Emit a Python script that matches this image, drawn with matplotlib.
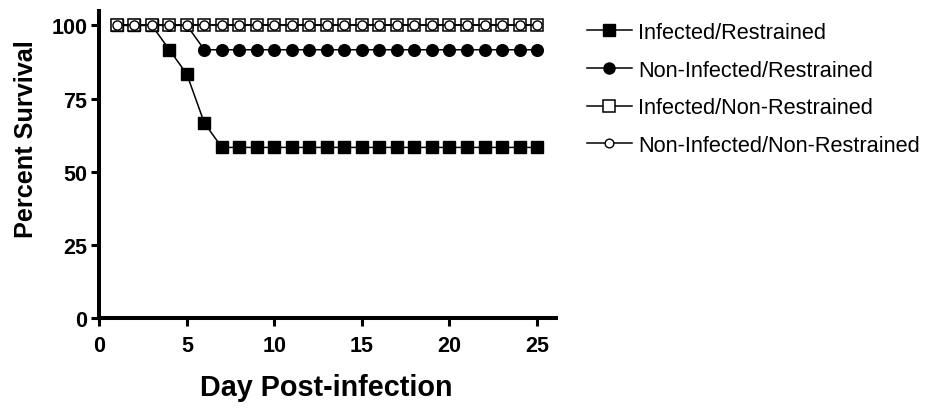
import matplotlib
matplotlib.use("Agg")
import matplotlib.pyplot as plt

days = list(range(1, 26))
infected_restrained = [100, 100, 100, 91.67, 83.33, 66.67] + [58.33] * 19
noninfected_restrained = [100] * 5 + [91.67] * 20
infected_nonrestrained = [100] * 25
noninfected_nonrestrained = [100] * 25

labels = ["Infected/Restrained", "Non-Infected/Restrained",
          "Infected/Non-Restrained", "Non-Infected/Non-Restrained"]
x_ticks = [0, 5, 10, 15, 20, 25]
y_ticks = [0, 25, 50, 75, 100]

plt.rcParams['font.family'] = ['Liberation Sans', 'DejaVu Sans']

fig = plt.figure(figsize=(9.34, 4.14), dpi=100)
ax = fig.add_axes([99.3 / 934, 1 - 319.3 / 414, 457 / 934, 307.6 / 414])

lw = 1.1
ax.plot(days, infected_restrained, color='black', lw=lw, marker='s', ms=8.6,
        mfc='black', mec='black', label=labels[0], zorder=3)
ax.plot(days, noninfected_restrained, color='black', lw=lw, marker='o', ms=8.4,
        mfc='black', mec='black', label=labels[1], zorder=4)
ax.plot(days, infected_nonrestrained, color='black', lw=lw, marker='s', ms=8.8,
        mfc='white', mec='black', mew=1.1, label=labels[2], zorder=5)
ax.plot(days, noninfected_nonrestrained, color='black', lw=lw, marker='o', ms=6.6,
        mfc='white', mec='black', mew=1.0, label=labels[3], zorder=6)

ax.set_xlim(0, 26.1)
ax.set_ylim(0, 105)
ax.set_xticks(x_ticks)
ax.set_yticks(y_ticks)
for s in ['top', 'right']:
    ax.spines[s].set_visible(False)
for s in ['left', 'bottom']:
    ax.spines[s].set_linewidth(2.9)
    ax.spines[s].set_capstyle('projecting')
ax.tick_params(axis='both', direction='out', length=5.5, width=2.2,
               labelsize=15.5, pad=3)
ax.tick_params(axis='x', pad=6.5)
for t in ax.get_xticklabels() + ax.get_yticklabels():
    t.set_fontweight('bold')

ax.set_xlabel("Day Post-infection", fontsize=20.7, fontweight='bold')
ax.set_ylabel("Percent Survival", fontsize=18.2, fontweight='bold')
ax.xaxis.set_label_coords(0.497, -0.178)
ax.yaxis.set_label_coords(-0.134, 0.586)

fig.legend(loc='upper left', bbox_to_anchor=(586.7 / 934, 1 - 23 / 414),
           frameon=False, fontsize=15.7, handlelength=2.06, handletextpad=0.3,
           labelspacing=0.76, borderpad=0, borderaxespad=0, markerscale=0.95)

fig.savefig("out.png", dpi=100)
